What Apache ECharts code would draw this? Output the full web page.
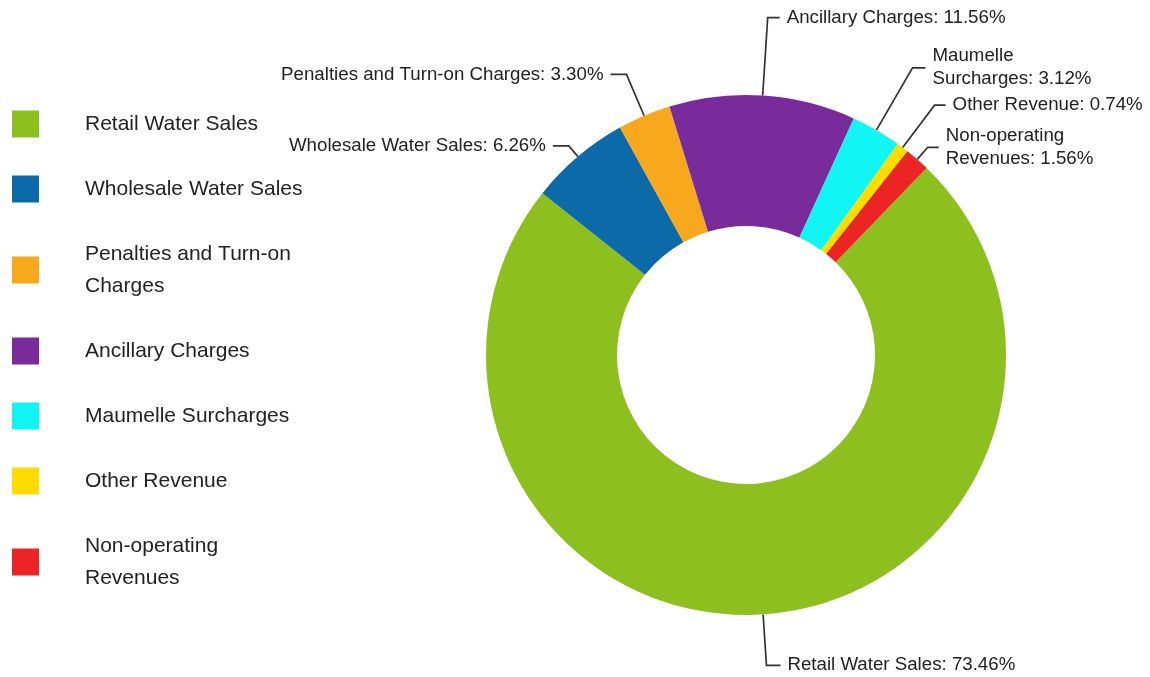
<!DOCTYPE html>
<html>
<head>
<meta charset="utf-8">
<title>Revenue Breakdown</title>
<script src="https://cdn.jsdelivr.net/npm/echarts@6/dist/echarts.min.js"></script>
<style>
  html, body { margin: 0; padding: 0; background: #ffffff; }
  #chart { width: 1150px; height: 677px; }
</style>
</head>
<body>
<div id="chart"></div>
<script>
// Revenue sources and their share of the total (percent)
const categories = [
  'Retail Water Sales',
  'Wholesale Water Sales',
  'Penalties and Turn-on Charges',
  'Ancillary Charges',
  'Maumelle Surcharges',
  'Other Revenue',
  'Non-operating Revenues'
];
const shares = [73.46, 6.26, 3.30, 11.56, 3.12, 0.74, 1.56];

// Slice colours, one per category
const colors = ['#8dc01e', '#0c6aa8', '#f8a81c', '#7a2b9b', '#12f5f5', '#ffdc00', '#ec2424'];

// Leader line lengths [radial, horizontal] for each slice label
const leaderLines = [[51, 14], [14, 16], [45, 16], [78, 12], [72, 13], [53, 11], [16, 11]];

// Text shown on two lines in the legend and the slice labels
const legendWrap = {
  'Penalties and Turn-on Charges': 'Penalties and Turn-on\nCharges',
  'Non-operating Revenues': 'Non-operating\nRevenues'
};
const labelWrap = {
  'Maumelle Surcharges': 'Maumelle\nSurcharges',
  'Non-operating Revenues': 'Non-operating\nRevenues'
};

const FONT = '"Liberation Sans", Arial, Helvetica, sans-serif';

const chart = echarts.init(document.getElementById('chart'), null, { renderer: 'canvas' });

const seriesData = categories.map((name, i) => ({
  name: name,
  value: shares[i],
  itemStyle: { color: colors[i] },
  labelLine: { length: leaderLines[i][0], length2: leaderLines[i][1] }
}));

chart.setOption({
  backgroundColor: '#ffffff',
  animation: false,
  legend: {
    orient: 'vertical',
    left: 12,
    top: 104,
    padding: 0,
    itemWidth: 27,
    itemHeight: 27,
    itemGap: 25,
    icon: 'rect',
    data: categories,
    formatter: name => legendWrap[name] || name,
    textStyle: {
      fontFamily: FONT,
      fontSize: 21,
      color: '#222222',
      lineHeight: 32,
      padding: [8, 0, 0, 41]
    }
  },
  series: [{
    type: 'pie',
    center: [746, 355],
    radius: [129, 260],
    startAngle: 46,
    clockwise: true,
    avoidLabelOverlap: false,
    itemStyle: { borderWidth: 0 },
    label: {
      show: true,
      position: 'outside',
      fontFamily: FONT,
      fontSize: 18.7,
      lineHeight: 23,
      color: '#222222',
      distanceToLabelLine: 7,
      formatter: p => (labelWrap[p.name] || p.name) + ': ' + p.value.toFixed(2) + '%'
    },
    labelLine: {
      show: true,
      minTurnAngle: 0,
      lineStyle: { color: '#333333', width: 1.7 }
    },
    emphasis: { disabled: true },
    data: seriesData
  }]
});
</script>
</body>
</html>
